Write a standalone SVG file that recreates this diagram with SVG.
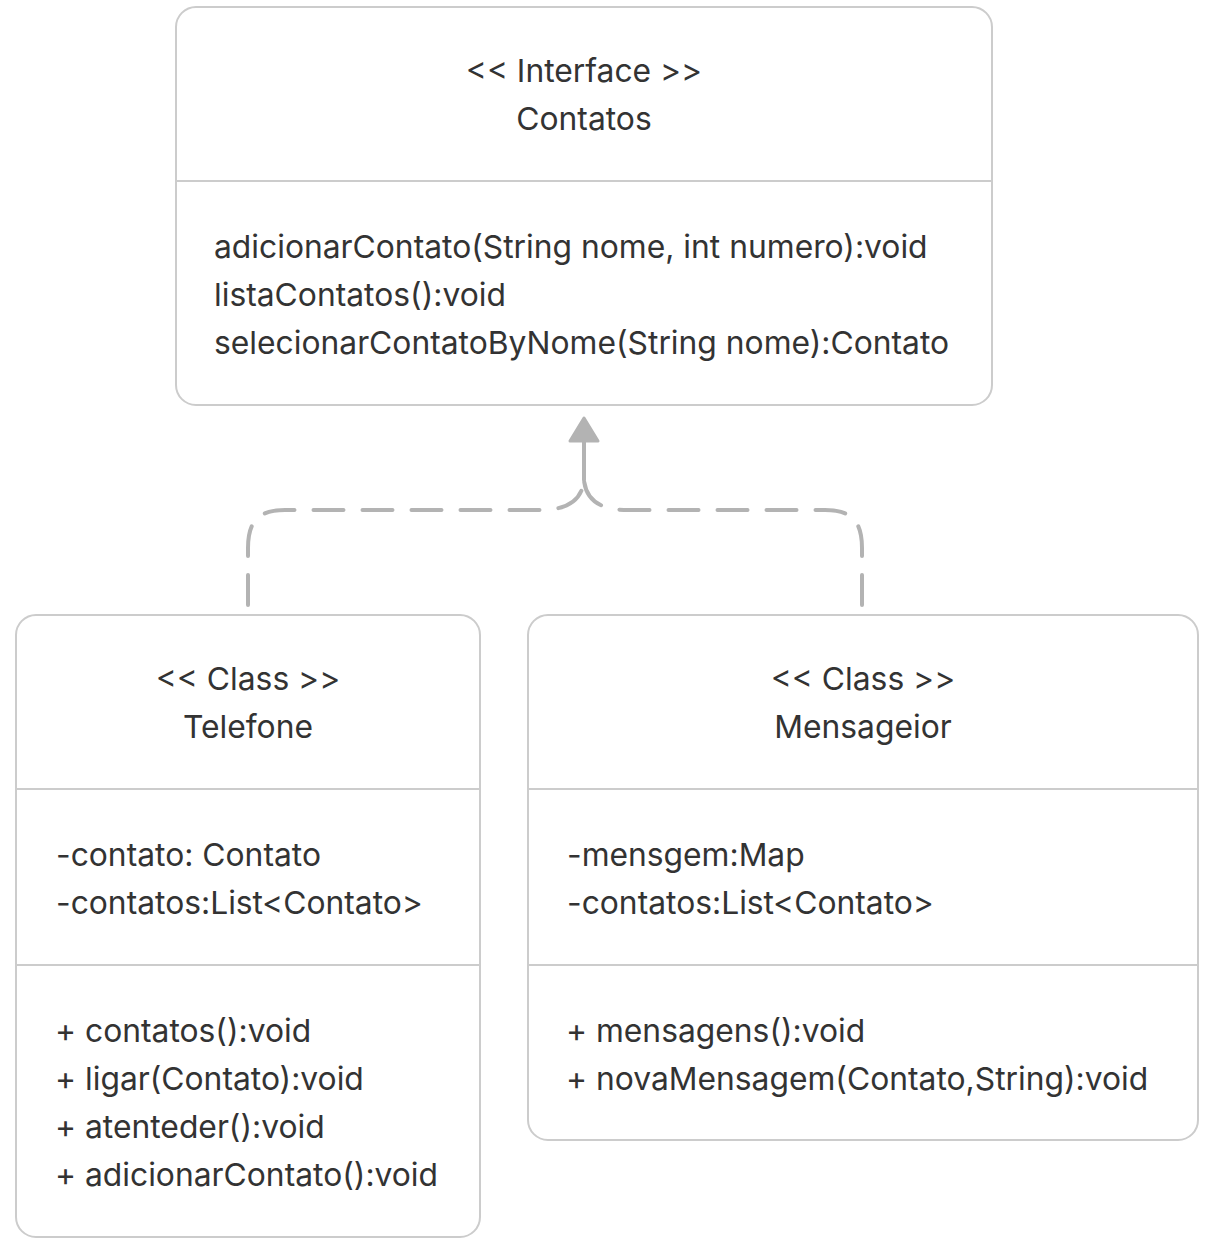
<svg xmlns="http://www.w3.org/2000/svg" width="1207" height="1243" viewBox="0 0 1207 1243">
<defs>
<style>
.box{fill:#fff;stroke:#ccc;stroke-width:2}
.div{stroke:#ccc;stroke-width:2}
text{font-family:Inter,"Noto Sans","Liberation Sans",sans-serif;font-size:31.8px;fill:#333}
.c{text-anchor:middle}
.conn{fill:none;stroke:#b3b3b3;stroke-width:4;stroke-dasharray:30 19;stroke-linecap:round;stroke-linejoin:round}
.stem{fill:none;stroke:#b3b3b3;stroke-width:4;stroke-linecap:round}
.head{fill:#b3b3b3;stroke:#b3b3b3;stroke-width:3;stroke-linejoin:round}
</style>
</defs>
<rect width="1207" height="1243" fill="#fff"/>
<g id="connectors">
<path class="conn" d="M248,605 L248,548 C248,522 258,510 285,510 L540,510 C568,510 582,500 584,480"/>
<path class="conn" d="M862,605 L862,548 C862,522 852,510 825,510 L628,510 C600,510 586,500 584,480"/>
<path class="stem" d="M584,480 L584,442"/>
<path class="head" d="M584,418 L598,441 L570,441 Z"/>
</g>
<g id="contatos">
<rect class="box" x="176" y="7" width="816" height="398" rx="20"/>
<line class="div" x1="176" y1="181" x2="992" y2="181"/>
<text class="c" x="584" y="82">&lt;&lt; Interface &gt;&gt;</text>
<text class="c" x="584" y="130">Contatos</text>
<text x="214" y="258">adicionarContato(String nome, int numero):void</text>
<text x="214" y="306">listaContatos():void</text>
<text x="214" y="354">selecionarContatoByNome(String nome):Contato</text>
</g>
<g id="telefone">
<rect class="box" x="16" y="615" width="464" height="622" rx="20"/>
<line class="div" x1="16" y1="789" x2="480" y2="789"/>
<line class="div" x1="16" y1="965" x2="480" y2="965"/>
<text class="c" x="248" y="690">&lt;&lt; Class &gt;&gt;</text>
<text class="c" x="248" y="738">Telefone</text>
<text x="56" y="866">-contato: Contato</text>
<text x="56" y="914">-contatos:List&lt;Contato&gt;</text>
<text x="55" y="1042">+ contatos():void</text>
<text x="55" y="1090">+ ligar(Contato):void</text>
<text x="55" y="1138">+ atenteder():void</text>
<text x="55" y="1186">+ adicionarContato():void</text>
</g>
<g id="mensageior">
<rect class="box" x="528" y="615" width="670" height="525" rx="20"/>
<line class="div" x1="528" y1="789" x2="1198" y2="789"/>
<line class="div" x1="528" y1="965" x2="1198" y2="965"/>
<text class="c" x="863" y="690">&lt;&lt; Class &gt;&gt;</text>
<text class="c" x="863" y="738">Mensageior</text>
<text x="567" y="866">-mensgem:Map</text>
<text x="567" y="914">-contatos:List&lt;Contato&gt;</text>
<text x="566" y="1042">+ mensagens():void</text>
<text x="566" y="1090">+ novaMensagem(Contato,String):void</text>
</g>
</svg>
